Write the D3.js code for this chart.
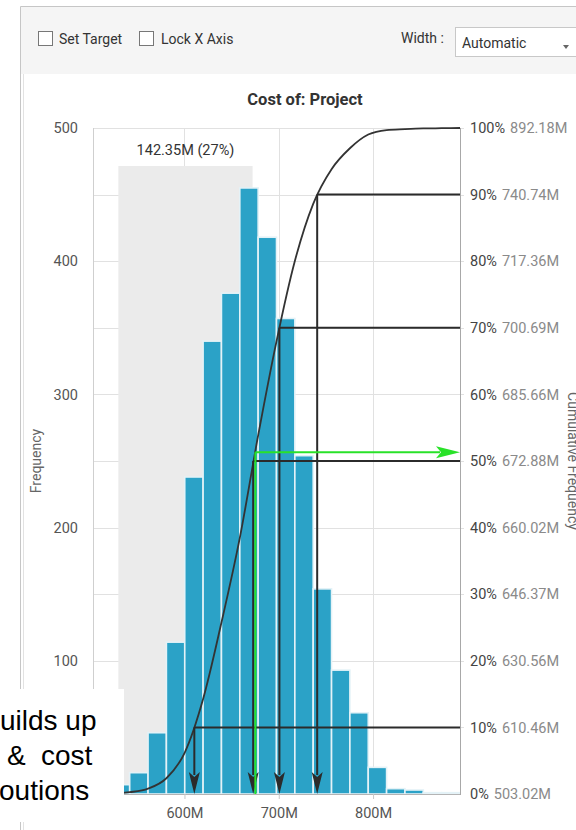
<!DOCTYPE html>
<html>
<head>
<meta charset="utf-8">
<script src="https://cdn.jsdelivr.net/npm/d3@7"></script>
<style>
  html, body { margin: 0; padding: 0; background: #fff; }
  svg { display: block; font-family: Roboto, "Noto Sans", sans-serif; }
</style>
</head>
<body>
<svg id="chart" width="576" height="830"></svg>
<script>
// Simulated project cost: histogram of outcomes (millions), 20 equal bins
const costMin = 503.02;
const costMax = 892.18;
const frequency = [1, 7, 16, 46, 114, 238, 340, 376, 455, 418, 357, 254, 154, 93, 61, 20, 4, 3, 1, 1];

// Axis ticks
const freqTicks = [100, 200, 300, 400, 500];
const costTicks = [600, 700, 800];
const costTickLabels = ["600M", "700M", "800M"];

// Cumulative percentiles shown on the right axis
const pctLevels = [0, 10, 20, 30, 40, 50, 60, 70, 80, 90, 100];
const pctValues = [503.02, 610.46, 630.56, 646.37, 660.02, 672.88, 685.66, 700.69, 717.36, 740.74, 892.18];
const markedPct = [10, 50, 70, 90];

// Highlighted cost range and its label
const rangeStart = 529.9;
const rangeWidth = 142.35;
const rangeShare = 27;

// Target marker (green)
const targetValue = 675.2;
const targetPct = 51.3;

// Overlaid caption fragments
const captionLines = [["uilds up"], ["&", "cost"], ["outions"]];

const svg = d3.select("#chart");

const plot = { left: 93, right: 460, top: 128, bottom: 794 };
const x = d3.scaleLinear().domain([costMin, costMax]).range([plot.left, plot.right]);
const y = d3.scaleLinear().domain([0, 500]).range([plot.bottom, plot.top]);
const yPct = d3.scaleLinear().domain([0, 100]).range([plot.bottom, plot.top]);

// ---- panel frame and toolbar ----
svg.append("rect").attr("x", 21).attr("y", 7).attr("width", 560).attr("height", 67).attr("fill", "#f5f5f5");
svg.append("line").attr("x1", 20.5).attr("x2", 20.5).attr("y1", 6.5).attr("y2", 830).attr("stroke", "#c6c6c6");
svg.append("line").attr("x1", 20.5).attr("x2", 576).attr("y1", 6.5).attr("y2", 6.5).attr("stroke", "#c6c6c6");
svg.append("line").attr("x1", 23.5).attr("x2", 23.5).attr("y1", 74).attr("y2", 830).attr("stroke", "#e2e2e2");

const tb = svg.append("g").attr("font-size", 14).attr("fill", "#333");
tb.append("rect").attr("x", 38.5).attr("y", 31.5).attr("width", 14).attr("height", 14).attr("fill", "#fff").attr("stroke", "#777");
tb.append("text").attr("x", 59).attr("y", 44).text("Set Target");
tb.append("rect").attr("x", 139.5).attr("y", 31.5).attr("width", 14).attr("height", 14).attr("fill", "#fff").attr("stroke", "#777");
tb.append("text").attr("x", 161).attr("y", 44).text("Lock X Axis");
tb.append("text").attr("x", 401).attr("y", 43).text("Width :");
tb.append("rect").attr("x", 455.5).attr("y", 27.5).attr("width", 140).attr("height", 29).attr("fill", "#fff").attr("stroke", "#c8c8c8");
tb.append("text").attr("x", 462).attr("y", 48).text("Automatic");
tb.append("path").attr("d", "M563,45 L569,45 L566,49 Z").attr("fill", "#666");

// ---- title ----
svg.append("text").attr("x", 305).attr("y", 105).attr("text-anchor", "middle")
  .attr("font-size", 16.5).attr("font-weight", "bold").attr("fill", "#333").text("Cost of: Project");

// ---- gridlines ----
const grid = svg.append("g").attr("stroke", "#e1e1e1").attr("stroke-width", 1);
grid.selectAll("line.h").data(pctLevels.filter(p => p > 0)).join("line")
  .attr("x1", plot.left).attr("x2", plot.right + 4)
  .attr("y1", d => Math.round(yPct(d)) + 0.5).attr("y2", d => Math.round(yPct(d)) + 0.5);
grid.selectAll("line.v").data(costTicks).join("line")
  .attr("x1", d => Math.round(x(d)) + 0.5).attr("x2", d => Math.round(x(d)) + 0.5)
  .attr("y1", plot.top).attr("y2", plot.bottom);

// ---- highlighted range ----
const bandTop = plot.top + 38;
svg.append("rect")
  .attr("x", x(rangeStart)).attr("width", x(rangeStart + rangeWidth) - x(rangeStart))
  .attr("y", bandTop).attr("height", plot.bottom - bandTop)
  .attr("fill", "#ebebeb");
svg.append("text")
  .attr("x", x(rangeStart + rangeWidth / 2)).attr("y", plot.top + 27)
  .attr("text-anchor", "middle").attr("font-size", 14.5).attr("fill", "#333")
  .text(`${rangeWidth.toFixed(2)}M (${rangeShare}%)`);

// ---- histogram bars ----
const binW = (costMax - costMin) / frequency.length;
const bins = frequency.map((f, i) => ({ x0: costMin + i * binW, x1: costMin + (i + 1) * binW, f }));
svg.append("g").selectAll("rect").data(bins).join("rect")
  .attr("x", d => x(d.x0)).attr("width", d => x(d.x1) - x(d.x0))
  .attr("y", d => y(d.f)).attr("height", d => plot.bottom - y(d.f))
  .attr("fill", "#2ba2c7").attr("stroke", "#e4f2f7").attr("stroke-width", 1.6);

// ---- axis lines ----
svg.append("line").attr("x1", plot.left + 0.5).attr("x2", plot.left + 0.5)
  .attr("y1", plot.top).attr("y2", plot.bottom).attr("stroke", "#cfcfcf");
svg.append("line").attr("x1", plot.right + 0.5).attr("x2", plot.right + 0.5)
  .attr("y1", plot.top).attr("y2", plot.bottom + 1).attr("stroke", "#a8a8a8");
svg.append("line").attr("x1", plot.left).attr("x2", plot.right)
  .attr("y1", plot.bottom + 0.5).attr("y2", plot.bottom + 0.5).attr("stroke", "#b4b4b4");

// bottom axis
const xAxis = svg.append("g").attr("transform", `translate(0,${plot.bottom})`)
  .call(d3.axisBottom(x).tickValues(costTicks).tickSize(5).tickFormat((d, i) => costTickLabels[i]));
xAxis.select(".domain").remove();
xAxis.selectAll("line").attr("stroke", "#c8c8c8");
xAxis.selectAll("text").attr("font-size", 14.5).attr("fill", "#555").attr("dy", "1.1em")
  .attr("font-family", "Roboto, sans-serif");

// left axis
const yAxis = svg.append("g").attr("transform", `translate(${plot.left - 12},0)`)
  .call(d3.axisLeft(y).tickValues(freqTicks).tickSize(0).tickFormat(d3.format("d")));
yAxis.select(".domain").remove();
yAxis.selectAll("text").attr("font-size", 14.5).attr("fill", "#555").attr("font-family", "Roboto, sans-serif");
svg.append("text").attr("transform", `translate(41,${(plot.top + plot.bottom) / 2}) rotate(-90)`)
  .attr("text-anchor", "middle").attr("font-size", 14).attr("fill", "#666").text("Frequency");

// right axis: percentile labels
const rLab = svg.append("g").attr("font-size", 14.5);
pctLevels.forEach((p, i) => {
  const t = rLab.append("text").attr("x", plot.right + 10).attr("y", yPct(p)).attr("dy", "0.36em");
  t.append("tspan").attr("fill", "#444").text(p + "%");
  t.append("tspan").attr("fill", "#8a8a8a").attr("dx", 5).text(pctValues[i].toFixed(2) + "M");
});
svg.append("text").attr("transform", `translate(568,${(plot.top + plot.bottom) / 2}) rotate(90)`)
  .attr("text-anchor", "middle").attr("font-size", 14).attr("fill", "#666").text("Cumulative Frequency");

// ---- cumulative frequency curve ----
const total = d3.sum(frequency);
const cum = d3.cumsum(frequency);
const cumPts = [[costMin, 0]].concat(bins.map((b, i) => [b.x1, cum[i] / total * 100]));
svg.append("path").datum(cumPts)
  .attr("d", d3.line().x(d => x(d[0])).y(d => yPct(d[1])).curve(d3.curveMonotoneX))
  .attr("fill", "none").attr("stroke", "#333").attr("stroke-width", 1.8);

// ---- percentile guide lines with arrows ----
const ink = "#2b2b2b";
const arrowLen = 22, arrowHalf = 5.5;
const guides = svg.append("g");
markedPct.forEach(p => {
  const v = pctValues[pctLevels.indexOf(p)];
  const px = x(v), py = yPct(p);
  guides.append("line").attr("x1", px).attr("x2", plot.right).attr("y1", py).attr("y2", py)
    .attr("stroke", ink).attr("stroke-width", 2);
  guides.append("line").attr("x1", px).attr("x2", px).attr("y1", py).attr("y2", plot.bottom - arrowLen + 3)
    .attr("stroke", ink).attr("stroke-width", 2);
  guides.append("path")
    .attr("d", `M${px},${plot.bottom} L${px - arrowHalf},${plot.bottom - arrowLen} L${px},${plot.bottom - arrowLen + 5} L${px + arrowHalf},${plot.bottom - arrowLen} Z`)
    .attr("fill", ink);
});

// ---- target marker ----
const green = "#29e229";
const tx = x(targetValue), ty = yPct(targetPct);
svg.append("line").attr("x1", tx).attr("x2", tx).attr("y1", ty).attr("y2", plot.bottom)
  .attr("stroke", green).attr("stroke-width", 2);
svg.append("line").attr("x1", tx).attr("x2", plot.right - 20).attr("y1", ty).attr("y2", ty)
  .attr("stroke", green).attr("stroke-width", 2);
svg.append("path")
  .attr("d", `M${plot.right},${ty} L${plot.right - 24},${ty - 6} L${plot.right - 19},${ty} L${plot.right - 24},${ty + 6} Z`)
  .attr("fill", green);

// ---- caption box overlay ----
svg.append("rect").attr("x", 0).attr("y", 689).attr("width", 124).attr("height", 133).attr("fill", "#fff");
const capG = svg.append("g").attr("font-family", "'Liberation Sans', Arial, sans-serif")
  .attr("font-size", 28).attr("fill", "#000");
const capX = [[0], [7, 41], [-1]];
captionLines.forEach((words, i) => {
  const t = capG.append("text").attr("y", 730 + i * 35);
  words.forEach((w, j) => t.append("tspan").attr("x", capX[i][j]).text(w));
});
</script>
</body>
</html>
